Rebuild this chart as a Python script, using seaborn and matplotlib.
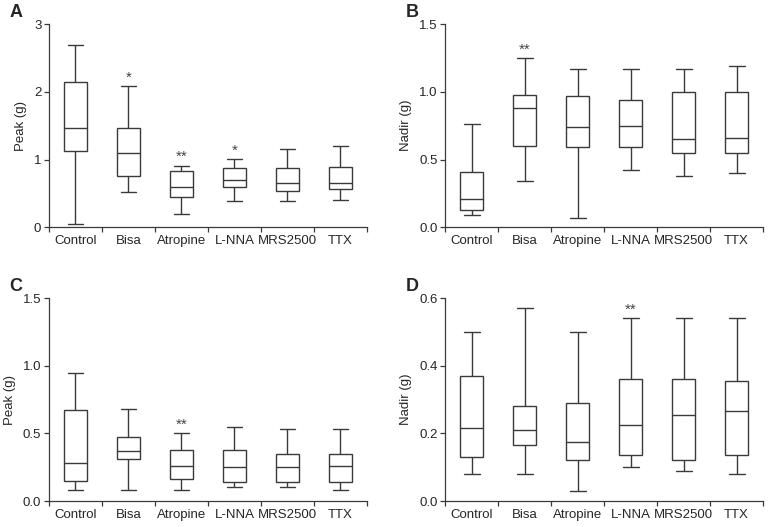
import pandas as pd
import numpy as np
import matplotlib
matplotlib.use('Agg')
import matplotlib.pyplot as plt
import seaborn as sns

groups = ['Control', 'Bisa', 'Atropine', 'L-NNA', 'MRS2500', 'TTX']

# (min, q1, median, q3, max) per group
peak_a = [(0.05, 1.13, 1.47, 2.15, 2.70),
          (0.52, 0.75, 1.10, 1.47, 2.09),
          (0.20, 0.44, 0.59, 0.83, 0.91),
          (0.38, 0.59, 0.69, 0.87, 1.01),
          (0.38, 0.54, 0.65, 0.88, 1.15),
          (0.40, 0.56, 0.65, 0.89, 1.20)]
nadir_b = [(0.09, 0.13, 0.21, 0.41, 0.76),
           (0.34, 0.60, 0.88, 0.98, 1.25),
           (0.07, 0.59, 0.74, 0.97, 1.17),
           (0.42, 0.59, 0.75, 0.94, 1.17),
           (0.38, 0.55, 0.65, 1.00, 1.17),
           (0.40, 0.55, 0.66, 1.00, 1.19)]
peak_c = [(0.08, 0.15, 0.28, 0.67, 0.95),
          (0.08, 0.31, 0.37, 0.47, 0.68),
          (0.08, 0.16, 0.26, 0.38, 0.50),
          (0.10, 0.14, 0.25, 0.38, 0.55),
          (0.10, 0.14, 0.25, 0.35, 0.53),
          (0.08, 0.14, 0.26, 0.35, 0.53)]
nadir_d = [(0.08, 0.13, 0.215, 0.37, 0.50),
           (0.08, 0.165, 0.21, 0.28, 0.57),
           (0.03, 0.12, 0.175, 0.29, 0.50),
           (0.10, 0.135, 0.225, 0.36, 0.54),
           (0.09, 0.12, 0.255, 0.36, 0.54),
           (0.08, 0.135, 0.265, 0.355, 0.54)]

# significance marks: group -> stars
stars_a = {'Bisa': '*', 'Atropine': '**', 'L-NNA': '*'}
stars_b = {'Bisa': '**'}
stars_c = {'Atropine': '**'}
stars_d = {'L-NNA': '**'}

sns.set_style('ticks')
plt.rcParams['font.family'] = ['Liberation Sans', 'DejaVu Sans']
plt.rcParams['font.size'] = 9.5

line_col = '#3a3a3a'

fig = plt.figure(figsize=(7.7, 5.27), dpi=100)

panels = [
    ('A', peak_a, stars_a, 'Peak (g)', [0, 1, 2, 3], ['0', '1', '2', '3'], [0.0636, 0.569, 0.413, 0.385]),
    ('B', nadir_b, stars_b, 'Nadir (g)', [0, 0.5, 1.0, 1.5], ['0.0', '0.5', '1.0', '1.5'], [0.578, 0.569, 0.413, 0.385]),
    ('C', peak_c, stars_c, 'Peak (g)', [0, 0.5, 1.0, 1.5], ['0.0', '0.5', '1.0', '1.5'], [0.0636, 0.0493, 0.413, 0.385]),
    ('D', nadir_d, stars_d, 'Nadir (g)', [0, 0.2, 0.4, 0.6], ['0.0', '0.2', '0.4', '0.6'], [0.578, 0.0493, 0.413, 0.385]),
]

for letter, stats, stars, ylabel, yticks, yticklabels, rect in panels:
    ax = fig.add_axes(rect)
    rows = []
    for g, s in zip(groups, stats):
        for v in s:
            rows.append({'group': g, 'value': v})
    df = pd.DataFrame(rows)
    sns.boxplot(data=df, x='group', y='value', order=groups, ax=ax,
                color='white', linecolor=line_col, linewidth=1.0,
                width=0.42, whis=(0, 100), fliersize=0, capwidths=0.3)
    for i, g in enumerate(groups):
        if g in stars:
            top = stats[i][4]
            ax.annotate(stars[g], (i, top), xytext=(0, 1), textcoords='offset points',
                        ha='center', va='bottom', fontsize=11, color='#444444')
    ax.set_xlim(-0.5, 5.5)
    ax.set_ylim(yticks[0], yticks[-1])
    ax.set_yticks(yticks)
    ax.set_yticklabels(yticklabels)
    ax.set_xticks(range(len(groups)))
    ax.set_xticklabels(groups)
    ax.set_xticks(np.arange(-0.5, 6.0, 1.0), minor=True)
    ax.tick_params(axis='x', which='major', length=0, pad=6)
    ax.tick_params(axis='x', which='minor', length=3.5, width=0.9, color=line_col)
    ax.tick_params(axis='y', length=3.5, width=0.9, color=line_col, pad=2)
    ax.set_xlabel('')
    ax.set_ylabel(ylabel, labelpad=5)
    sns.despine(ax=ax)
    for sp in ['left', 'bottom']:
        ax.spines[sp].set_color(line_col)
        ax.spines[sp].set_linewidth(0.9)
    # panel letter
    fig.text(rect[0] - 0.051, rect[1] + rect[3] + 0.022, letter,
             fontsize=13, fontweight='bold', ha='left', va='center')

fig.savefig('out.png', dpi=100)
